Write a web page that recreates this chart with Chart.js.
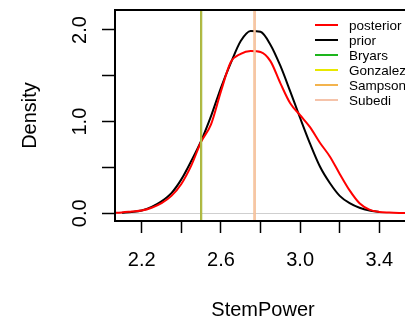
<!DOCTYPE html>
<html>
<head>
<meta charset="utf-8">
<script src="https://cdn.jsdelivr.net/npm/chart.js@4.4.0/dist/chart.umd.min.js"></script>
<style>
html, body { margin: 0; padding: 0; background: #fff; overflow: hidden; width: 405px; height: 324px; }
canvas { display: block; }
</style>
</head>
<body>
<canvas id="densityBox" width="420" height="324"></canvas>
<script>
// posterior density (red)
var postX = [2.00, 2.05, 2.10, 2.15, 2.20, 2.25, 2.30, 2.35, 2.40, 2.45, 2.50, 2.55, 2.60, 2.65, 2.70, 2.75, 2.80, 2.85, 2.90, 2.95, 3.00, 3.05, 3.10, 3.15, 3.20, 3.25, 3.30, 3.35, 3.40, 3.45, 3.50, 3.55, 3.60];
var postY = [0.002, 0.005, 0.01, 0.02, 0.03, 0.06, 0.11, 0.19, 0.32, 0.52, 0.78, 0.97, 1.33, 1.65, 1.74, 1.77, 1.76, 1.66, 1.42, 1.20, 1.07, 0.94, 0.77, 0.62, 0.43, 0.25, 0.11, 0.04, 0.015, 0.008, 0.004, 0.002, 0.001];

// prior density (black)
var priorX = [2.10, 2.15, 2.20, 2.25, 2.30, 2.35, 2.40, 2.45, 2.50, 2.55, 2.60, 2.65, 2.70, 2.75, 2.80, 2.85, 2.90, 2.95, 3.00, 3.05, 3.10, 3.15, 3.20, 3.25, 3.30, 3.35, 3.40];
var priorY = [0.007, 0.015, 0.03, 0.07, 0.13, 0.22, 0.37, 0.57, 0.79, 1.06, 1.37, 1.64, 1.88, 1.99, 1.98, 1.84, 1.61, 1.33, 1.04, 0.76, 0.51, 0.33, 0.19, 0.11, 0.06, 0.03, 0.015];

// reference lines
var refNames = ['Bryars', 'Gonzalez', 'Sampson', 'Subedi'];
var refValues = [2.50, 2.50, 2.77, 2.77];
var refColors = ['#1db51d', 'rgba(195,185,70,0.92)', '#f3b44e', '#f5c3aa'];
var legendColors = ['#ff0000', '#000000', '#1db51d', '#e8e800', '#f3b44e', '#f5c3aa'];

var xTicks = [2.2, 2.4, 2.6, 2.8, 3.0, 3.2, 3.4];
var xLabels = ['2.2', '', '2.6', '', '3.0', '', '3.4'];
var yTicks = [0, 0.5, 1.0, 1.5, 2.0];
var yLabels = ['0.0', '', '1.0', '', '2.0'];

function toPoints(xs, ys) {
	var pts = [];
	for (var i = 0; i < xs.length; i++) pts.push({x: xs[i], y: ys[i]});
	return pts;
}

var datasets = [
	{label: 'posterior', data: toPoints(postX, postY), borderColor: '#ff0000', borderWidth: 2, pointRadius: 0, cubicInterpolationMode: 'monotone', order: 5},
	{label: 'prior', data: toPoints(priorX, priorY), borderColor: '#000000', borderWidth: 2, pointRadius: 0, cubicInterpolationMode: 'monotone', order: 6}
];
refNames.forEach(function(n, i) {
	datasets.push({label: n, data: [{x: refValues[i], y: -1}, {x: refValues[i], y: 3}], borderColor: refColors[i], borderWidth: 2, pointRadius: 0, order: 4 - i});
});

var boxAndLegend = {
	id: 'boxAndLegend',
	afterDraw: function(chart) {
		var ctx = chart.ctx, a = chart.chartArea;
		ctx.save();
		ctx.strokeStyle = '#000';
		ctx.lineWidth = 2;
		ctx.strokeRect(a.left, a.top, a.right - a.left, a.bottom - a.top);
		// legend
		ctx.font = '13.5px "Liberation Sans", Arial, sans-serif';
		ctx.textBaseline = 'middle';
		ctx.textAlign = 'left';
		chart.data.datasets.forEach(function(ds, i) {
			var y = 25 + i * 15;
			ctx.strokeStyle = legendColors[i];
			ctx.lineWidth = 2;
			ctx.beginPath();
			ctx.moveTo(315, y);
			ctx.lineTo(338, y);
			ctx.stroke();
			ctx.fillStyle = '#000';
			ctx.fillText(ds.label, 349, y + 1);
		});
		ctx.restore();
	}
};

var font20 = {family: '"Liberation Sans", Arial, sans-serif', size: 20};

new Chart(document.getElementById('densityBox'), {
	type: 'line',
	data: {datasets: datasets},
	plugins: [boxAndLegend],
	options: {
		responsive: false,
		animation: false,
		layout: {padding: {top: 10, right: 9, left: 0, bottom: 0}},
		plugins: {legend: {display: false}, tooltip: {enabled: false}},
		scales: {
			x: {
				type: 'linear', min: 2.065, max: 3.56,
				afterBuildTicks: function(s) { s.ticks = xTicks.map(function(v) { return {value: v}; }); },
				afterFit: function(s) { s.height = 103; s.paddingLeft = 0; s.paddingRight = 0; },
				border: {display: false},
				grid: {drawOnChartArea: false, tickColor: '#000', tickLength: 12, tickWidth: 1.5},
				ticks: {
					color: '#000', font: font20, padding: 15, maxRotation: 0, autoSkip: false,
					callback: function(v, i) { return xLabels[i]; }
				},
				title: {display: true, text: 'StemPower', color: '#000', font: font20, padding: {top: 0, bottom: 2}}
			},
			y: {
				type: 'linear', min: -0.084, max: 2.218,
				afterBuildTicks: function(s) { s.ticks = yTicks.map(function(v) { return {value: v}; }); },
				afterFit: function(s) { s.width = 115; s.paddingTop = 0; s.paddingBottom = 0; },
				border: {display: false},
				grid: {
					tickColor: '#000', tickLength: 13, tickWidth: 1.5,
					color: function(c) { return c.tick && c.tick.value === 0 ? '#cfcfcf' : 'rgba(0,0,0,0)'; }
				},
				ticks: {
					color: '#000', font: font20, padding: 8, minRotation: 90, maxRotation: 90, crossAlign: 'center', autoSkip: false,
					callback: function(v, i) { return yLabels[i]; }
				},
				title: {display: true, text: 'Density', color: '#000', font: font20, padding: {top: 18, bottom: 0}}
			}
		}
	}
});
</script>
</body>
</html>
